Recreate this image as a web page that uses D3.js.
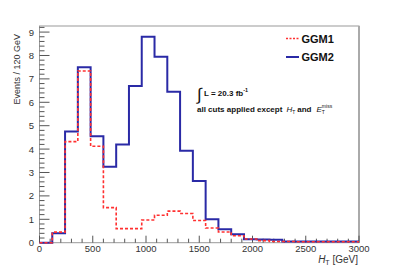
<!DOCTYPE html>
<html><head><meta charset="utf-8">
<script src="https://cdn.jsdelivr.net/npm/d3@7"></script>
<style>
html,body{margin:0;padding:0;background:#fff;}
svg{display:block;font-family:"Liberation Sans",Arial,sans-serif;}
</style></head>
<body>
<script>
// ---- data ----
const binLow = [0,120,240,360,480,600,720,840,960,1080,1200,1320,1440,1560,1680,1800,1920,2040,2160,2280,2400,2520,2640,2760,2880];
const binWidth = 120;
const ggm1 = [0,0.45,4.32,7.34,4.12,1.5,0.6,0.6,0.97,1.17,1.35,1.25,0.95,0.63,0.46,0.3,0.16,0.09,0.05,0.05,0.04,0.04,0.04,0.04,0.04];
const ggm2 = [0,0.4,4.75,7.5,4.55,3.25,4.2,6.7,8.8,7.95,6.45,3.93,2.64,1.0,0.57,0.36,0.15,0.14,0.13,0.05,0.05,0.05,0.05,0.05,0.05];
const xTicks = [0,500,1000,1500,2000,2500,3000];
const yTicks = [0,1,2,3,4,5,6,7,8,9];
const seriesNames = ["GGM1","GGM2"];

const W=399,H=270;
const L=39.5,R=359,T=26,B=242.7;
const svg=d3.select("body").append("svg").attr("width",W).attr("height",H);
const x=d3.scaleLinear().domain([0,3000]).range([L,R]);
const y=d3.scaleLinear().domain([0,9.26]).range([B,T]);

const axisCol="#555", txtCol="#333";

// frame
svg.append("rect").attr("x",L).attr("y",T).attr("width",R-L).attr("height",B-T)
  .attr("fill","none").attr("stroke","#999").attr("stroke-width",1);
svg.append("line").attr("x1",R).attr("x2",R).attr("y1",T).attr("y2",B).attr("stroke","#aaa").attr("stroke-width",2);

// x minor ticks
const xMinor=d3.range(0,3001,100);
svg.append("g").selectAll("line").data(xMinor).join("line")
  .attr("x1",d=>x(d)).attr("x2",d=>x(d)).attr("y1",B).attr("y2",d=>d%500===0?B-7:B-4)
  .attr("stroke",axisCol).attr("stroke-width",1);
svg.append("g").selectAll("text").data(xTicks).join("text")
  .attr("x",d=>x(d)).attr("y",252).attr("text-anchor","middle")
  .attr("font-size",9.5).attr("fill",txtCol).text(d=>d);

// y ticks
const yMinor=d3.range(0,9.21,0.2);
svg.append("g").selectAll("line").data(yMinor).join("line")
  .attr("x1",L).attr("x2",d=>Math.abs(d-Math.round(d))<1e-6?L+10:L+5)
  .attr("y1",d=>y(d)).attr("y2",d=>y(d))
  .attr("stroke",axisCol).attr("stroke-width",1);
svg.append("g").selectAll("text").data(yTicks).join("text")
  .attr("x",34).attr("y",d=>y(d)+3.5).attr("text-anchor","end")
  .attr("font-size",9.5).attr("fill",txtCol).text(d=>d);

// axis titles
svg.append("text").attr("transform","translate(20,34) rotate(-90)").attr("text-anchor","end")
  .attr("font-size",9).attr("fill",txtCol).text("Events / 120 GeV");
const xt=svg.append("text").attr("x",358).attr("y",263).attr("text-anchor","end").attr("font-size",10).attr("fill",txtCol);
xt.append("tspan").attr("font-style","italic").text("H");
xt.append("tspan").attr("font-size",7).attr("dy",2).text("T");
xt.append("tspan").attr("dy",-2).text(" [GeV]");

// histograms
function stepPts(vals){
  const pts=[];
  vals.forEach((v,i)=>{pts.push([binLow[i],v]);pts.push([binLow[i]+binWidth,v]);});
  return pts;
}
const line=d3.line().x(d=>x(d[0])).y(d=>y(d[1]));
svg.append("path").attr("d",line(stepPts(ggm2))).attr("fill","none")
  .attr("stroke","#2a2aa6").attr("stroke-width",2);
svg.append("path").attr("d",line(stepPts(ggm1))).attr("fill","none")
  .attr("stroke","#ff3030").attr("stroke-width",1.6).attr("stroke-dasharray","3,2");

// legend
const leg=[{n:seriesNames[0],c:"#ff3030",dash:"2,1.5",w:1.6,y:38.5},{n:seriesNames[1],c:"#2a2aa6",dash:null,w:2,y:57}];
leg.forEach(l=>{
  svg.append("line").attr("x1",286).attr("x2",299).attr("y1",l.y).attr("y2",l.y)
    .attr("stroke",l.c).attr("stroke-width",l.w).attr("stroke-dasharray",l.dash);
  svg.append("text").attr("x",301.5).attr("y",l.y+4).attr("font-size",11).attr("font-weight","bold")
    .attr("fill","#111").text(l.n);
});

// annotation
svg.append("text").attr("x",197).attr("y",100).attr("font-size",17).attr("fill","#111").text("\u222B");
const a1=svg.append("text").attr("x",204).attr("y",96).attr("font-size",8).attr("font-weight","bold").attr("fill","#111");
a1.append("tspan").text("L = 20.3 fb");
a1.append("tspan").attr("font-size",5.5).attr("dy",-4).text("-1");
const a2=svg.append("text").attr("x",197).attr("y",112).attr("font-size",8).attr("font-weight","bold").attr("fill","#111");
a2.append("tspan").text("all cuts applied except");
a2.append("tspan").attr("dx",4).attr("font-style","italic").attr("font-weight","normal").text("H");
a2.append("tspan").attr("font-size",5).attr("dy",1.5).attr("font-weight","normal").text("T");
a2.append("tspan").attr("dy",-1.5).attr("dx",2).text("and");
a2.append("tspan").attr("dx",5).attr("font-style","italic").attr("font-weight","normal").text("E");
a2.append("tspan").attr("font-size",5).attr("dy",1.5).attr("font-weight","normal").text("T");
a2.append("tspan").attr("font-size",5).attr("dy",-5.5).attr("dx",-3).attr("font-weight","normal").text("miss");
</script>
</body></html>
